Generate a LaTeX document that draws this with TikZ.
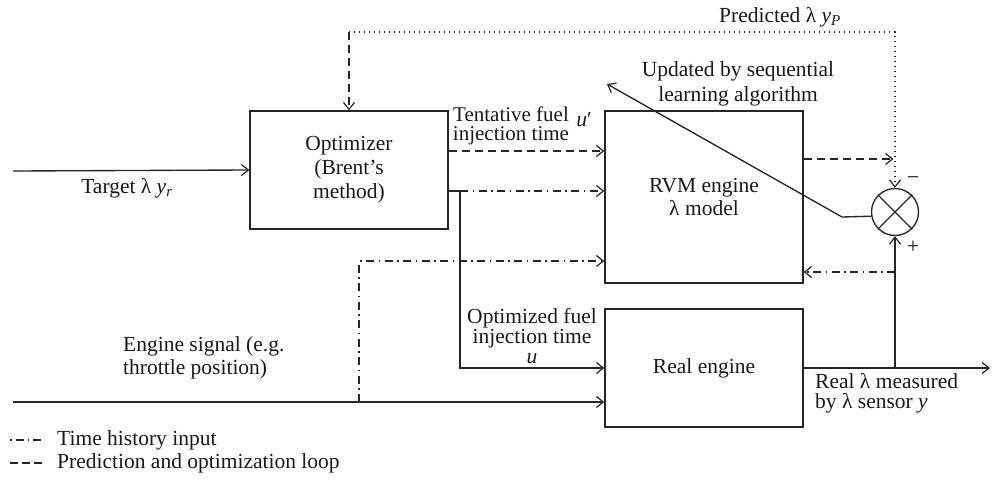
\documentclass[tikz,border=0pt]{standalone}
\usepackage{fontspec}
\setmainfont{Liberation Serif}
\usetikzlibrary{arrows.meta}

\begin{document}
\begin{tikzpicture}[x=1pt,y=-1pt,
  every node/.style={font=\fontsize{21.5}{23}\selectfont, text=black!90, inner sep=0pt},
  ln/.style={line width=1.35pt, draw=black!85},
  arr/.style={ln, -{Straight Barb[length=7pt,width=11pt,line width=1.2pt]}},
  dashedln/.style={dash pattern=on 8pt off 5pt},
  dashdotln/.style={dash pattern=on 8pt off 4.5pt on 1.5pt off 4.5pt},
  dottedln/.style={dash pattern=on 1.3pt off 3.7pt},
  box/.style={ln, draw, minimum width=198pt, align=center},
  lbl/.style={align=center},
]
\useasboundingbox (0,0) rectangle (992,482);

% blocks
\node[box, minimum height=118pt, font=\fontsize{21.5}{24}\selectfont] (opt) at (349,170)
  {Optimizer\\(Brent’s\\method)};
\node[box, minimum height=172pt, font=\fontsize{21.5}{23}\selectfont] (rvm) at (704,197)
  {RVM engine\\λ model};
\node[box, minimum height=118pt] (eng) at (704,368) {Real engine};
\node[ln, draw, circle, minimum size=47pt] (sum) at (895,212) {};
\draw[ln] (sum.45) -- (sum.225);
\draw[ln] (sum.135) -- (sum.315);

% helper points
\coordinate (tin)   at (13,171);
\coordinate (sin)   at (13,402);
\coordinate (topL)  at (349,32);
\coordinate (topR)  at (895,32);
\coordinate (pj)    at (895,159);
\coordinate (ytent) at (0,151);
\coordinate (yhist) at (0,191);
\coordinate (split) at (460,191);
\coordinate (ythr)  at (0,261);
\coordinate (tap)   at (359,402);
\coordinate (ymeas) at (895,272);
\coordinate (meas)  at (895,368);
\coordinate (out)   at (990,368);
\coordinate (knee)  at (842,217);
\coordinate (upd)   at (607,84);

% target input
\draw[arr] (tin) -- (opt.west);
% prediction loop
\draw[arr, dashedln] (topL) -- (opt.north);
\draw[arr, dottedln] (topL) -- (topR) -- (sum.north);
\draw[arr, dashedln, shorten >=1.5pt] (rvm.east |- pj) -- (pj);
\draw[arr, dashedln] (opt.east |- ytent) -- (rvm.west |- ytent);
% optimizer output
\draw[ln] (opt.east |- yhist) -- (split);
\draw[arr, dashdotln] (split) -- (rvm.west |- yhist);
\draw[arr] (split) |- (eng.west);
% engine signal and its history tap
\draw[arr] (sin) -- (eng.west |- sin);
\draw[arr, dashdotln] (tap) |- (rvm.west |- ythr);
% measured output
\draw[arr] (eng.east) -- (out);
\draw[arr] (meas) -- (sum.south);
\draw[arr, dashdotln] (ymeas) -- (rvm.east |- ymeas);
% model update
\draw[arr] (sum.190) -- (knee) -- (upd);

% labels
\node at (127,188) {Target λ \textit{y}\textsubscript{\textit{r}}};
\node[lbl, font=\fontsize{21}{19}\selectfont] at (511,126) {Tentative fuel\\injection time};
\node at (584,120) {\textit{u}′};
\node[lbl, font=\fontsize{21.5}{25}\selectfont] at (738,84) {Updated by sequential\\learning algorithm};
\node at (780,17) {Predicted λ \textit{y}\textsubscript{\textit{P}}};
\node[lbl, font=\fontsize{21.5}{20}\selectfont] at (532,336) {Optimized fuel\\injection time\\\textit{u}};
\node[anchor=west, align=left, font=\fontsize{21.5}{20}\selectfont] at (815,393)
  {Real λ measured\\by λ sensor \textit{y}};
\node[anchor=west, align=left, font=\fontsize{21.5}{23}\selectfont] at (123,358)
  {Engine signal (e.g.\\throttle position)};
\node[font=\fontsize{22}{22}\selectfont] at (913,181) {−};
\node[font=\fontsize{22}{22}\selectfont] at (913,247) {+};

% legend
\coordinate (la1) at (10,440);
\coordinate (lb1) at (45,440);
\coordinate (la2) at (10,463);
\coordinate (lb2) at (45,463);
\draw[ln, dash pattern=on 1.5pt off 4pt on 8pt off 4pt] (la1) -- (lb1);
\draw[ln, dash pattern=on 8pt off 4pt] (la2) -- (lb2);
\node[anchor=west] at (57,440) {Time history input};
\node[anchor=west] at (57,463) {Prediction and optimization loop};
\end{tikzpicture}
\end{document}
